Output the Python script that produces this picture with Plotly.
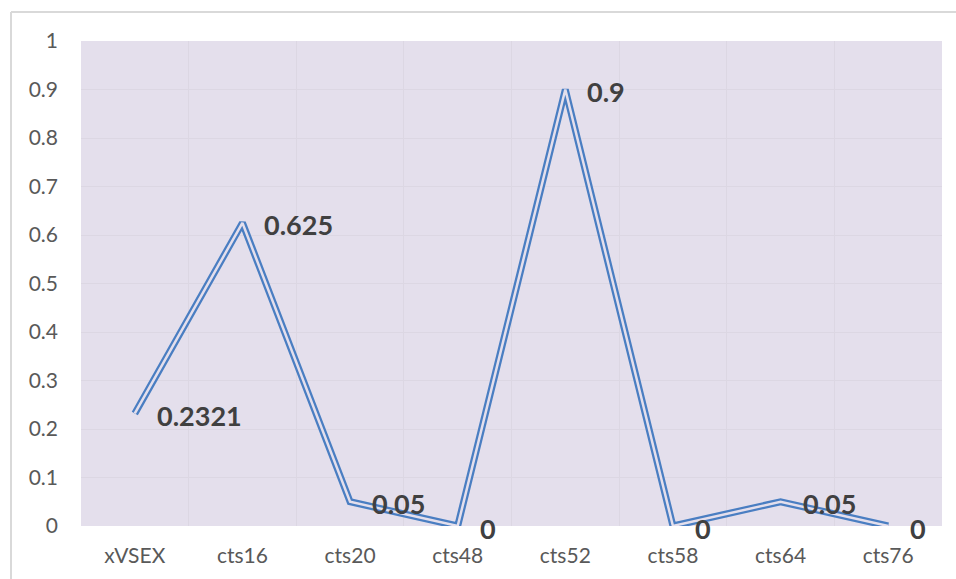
import plotly.graph_objects as go

# categories and values
categories = ['xVSEX', 'cts16', 'cts20', 'cts48', 'cts52', 'cts58', 'cts64', 'cts76']
values = [0.2321, 0.625, 0.05, 0, 0.9, 0, 0.05, 0]
labels = ['0.2321', '0.625', '0.05', '0', '0.9', '0', '0.05', '0']

bg = '#E4DFEC'
blue = '#4A7EC2'

fig = go.Figure()
# double (compound) line: thick blue stroke with a thin bg stroke on top
fig.add_trace(go.Scatter(x=categories, y=values, mode='lines',
                         line=dict(color=blue, width=7), hoverinfo='skip'))
fig.add_trace(go.Scatter(x=categories, y=values, mode='lines',
                         line=dict(color=bg, width=2.5), hoverinfo='skip'))

for c, v, t in zip(categories, values, labels):
    fig.add_annotation(x=c, y=v, text='<b>' + t + '</b>', showarrow=False,
                       xanchor='left', yanchor='middle', xshift=20, yshift=-2,
                       font=dict(family='Lato', size=27, color='#404040'))

# outer chart border: only top and left edges are in view
border = dict(color='#D9D9D9', width=2)
fig.add_shape(type='line', xref='paper', yref='paper',
              x0=-0.0813, x1=1.2, y0=1.0598, y1=1.0598, line=border, layer='below')
fig.add_shape(type='line', xref='paper', yref='paper',
              x0=-0.0813, x1=-0.0813, y0=-0.2, y1=1.0598, line=border, layer='below')

fig.update_layout(
    width=956, height=579,
    margin=dict(l=81, r=14, t=41, b=53),
    paper_bgcolor='white', plot_bgcolor=bg,
    showlegend=False,
    font=dict(family='Lato', size=21, color='#595959'),
)
fig.update_xaxes(type='category', range=[-0.5, len(categories) - 0.5],
                 tickson='boundaries', showgrid=True, gridcolor='#DCD7E3',
                 gridwidth=1, ticks='', showline=False, zeroline=False,
                 ticklabelstandoff=15)
fig.update_yaxes(range=[0, 1], dtick=0.1, tickformat='~g', showgrid=True, gridcolor='#DCD7E3',
                 gridwidth=1, ticks='', showline=False, zeroline=False,
                 ticklabelstandoff=22)

# no page margin / scrollbars so the figure fills the window exactly
fig.write_html("out.html", config={'displayModeBar': False},
               post_script="document.body.style.margin='0';document.body.style.overflow='hidden';")
